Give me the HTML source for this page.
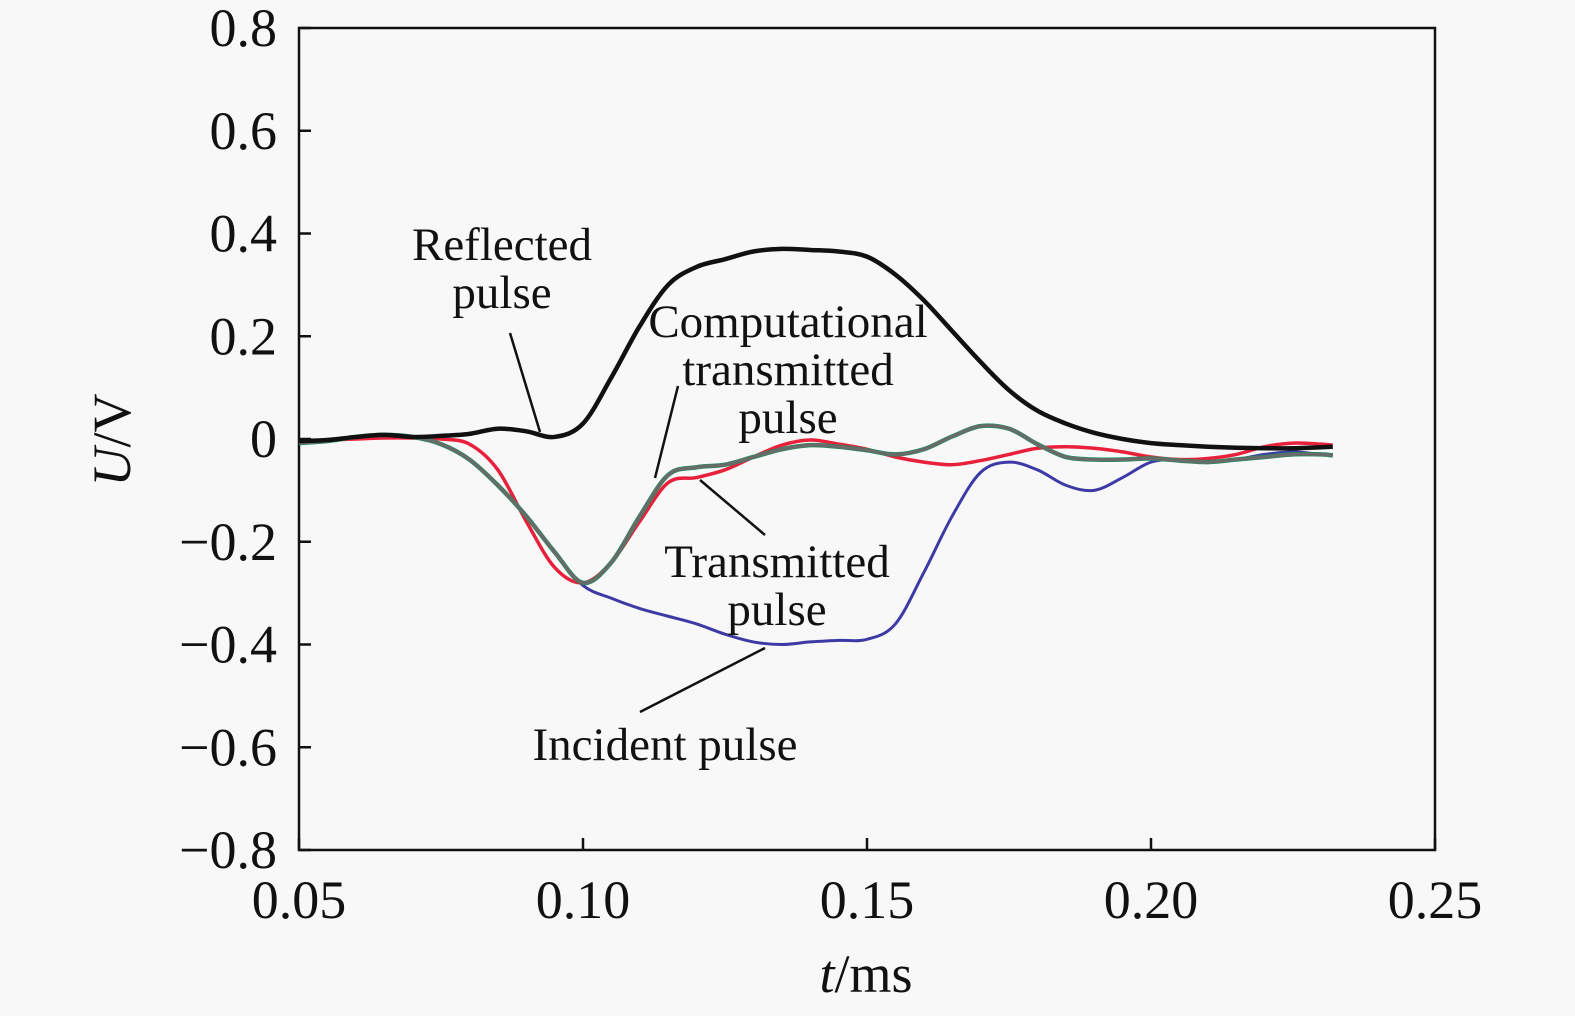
<!DOCTYPE html>
<html><head><meta charset="utf-8"><style>
html,body{margin:0;padding:0;background:#f8f8f8;}
svg{display:block;font-family:"Liberation Serif",serif;}
</style></head><body>
<svg id="chart" width="1575" height="1016" xmlns="http://www.w3.org/2000/svg">
<rect x="0" y="0" width="1575" height="1016" fill="#f8f8f8"/>
<g id="axes"></g>
<g id="series"></g>
<g id="annotations" font-size="47" fill="#111" text-anchor="middle">
<text x="502" y="260">Reflected</text>
<text x="502" y="308">pulse</text>
<line x1="510" y1="333" x2="540" y2="432" stroke="#111" stroke-width="2.5"/>
<text x="788" y="337">Computational</text>
<text x="788" y="385">transmitted</text>
<text x="788" y="433">pulse</text>
<line x1="678" y1="386" x2="655" y2="478" stroke="#111" stroke-width="2.5"/>
<text x="777" y="577">Transmitted</text>
<text x="777" y="625">pulse</text>
<line x1="765" y1="535" x2="700" y2="480" stroke="#111" stroke-width="2.5"/>
<text x="665" y="760">Incident pulse</text>
<line x1="640" y1="712" x2="765" y2="648" stroke="#111" stroke-width="2.5"/>
</g>
</svg>
<script>
const tValues=[0.05,0.055,0.06,0.065,0.07,0.075,0.08,0.085,0.09,0.095,0.10,0.105,0.11,0.115,0.12,0.125,0.13,0.135,0.14,0.145,0.15,0.155,0.16,0.165,0.17,0.175,0.18,0.185,0.19,0.195,0.20,0.205,0.21,0.215,0.22,0.225,0.23,0.232];
const reflected=[-0.004,-0.002,0.004,0.008,0.004,0.006,0.01,0.02,0.015,0.004,0.03,0.12,0.22,0.3,0.335,0.35,0.365,0.37,0.368,0.365,0.355,0.32,0.27,0.21,0.15,0.095,0.055,0.03,0.012,0.0,-0.008,-0.012,-0.015,-0.017,-0.018,-0.018,-0.016,-0.015];
const incident=[-0.008,-0.004,0.004,0.008,0.004,-0.01,-0.04,-0.09,-0.15,-0.22,-0.285,-0.31,-0.33,-0.345,-0.36,-0.38,-0.395,-0.4,-0.395,-0.392,-0.39,-0.36,-0.26,-0.15,-0.065,-0.045,-0.06,-0.09,-0.1,-0.075,-0.045,-0.04,-0.045,-0.04,-0.03,-0.025,-0.03,-0.03];
const computational=[-0.008,-0.004,0.004,0.008,0.004,-0.01,-0.04,-0.09,-0.15,-0.22,-0.28,-0.24,-0.15,-0.07,-0.055,-0.05,-0.035,-0.02,-0.012,-0.015,-0.022,-0.03,-0.02,0.005,0.025,0.02,-0.01,-0.035,-0.04,-0.04,-0.038,-0.042,-0.045,-0.04,-0.035,-0.03,-0.03,-0.032];
const transmitted=[-0.004,-0.002,0,0.002,0.002,0,-0.01,-0.06,-0.16,-0.25,-0.28,-0.24,-0.16,-0.085,-0.075,-0.06,-0.035,-0.012,-0.002,-0.01,-0.02,-0.035,-0.045,-0.05,-0.042,-0.03,-0.018,-0.015,-0.018,-0.025,-0.035,-0.04,-0.038,-0.03,-0.015,-0.008,-0.01,-0.012];
const xTicks=[0.05,0.10,0.15,0.20,0.25];
const xTickLabels=["0.05","0.10","0.15","0.20","0.25"];
const yTicks=[0.8,0.6,0.4,0.2,0,-0.2,-0.4,-0.6,-0.8];
const yTickLabels=["0.8","0.6","0.4","0.2","0","\u22120.2","\u22120.4","\u22120.6","\u22120.8"];

const L=299,R=1435,T=28,B=850;
const X=t=>L+(t-0.05)/0.2*(R-L);
const Y=v=>T+(0.8-v)/1.6*(B-T);
const NS="http://www.w3.org/2000/svg";
const axes=document.getElementById('axes');
function mk(tag,attrs,parent){const e=document.createElementNS(NS,tag);for(const k in attrs)e.setAttribute(k,attrs[k]);parent.appendChild(e);return e;}
const frame=mk('rect',{x:L,y:T,width:R-L,height:B-T,fill:'none',stroke:'#111','stroke-width':2.5},axes);


yTicks.forEach((v,i)=>{
 const tk=mk('line',{x1:L,x2:L+12,y1:Y(v),y2:Y(v),stroke:'#111','stroke-width':2.5},axes);
 
 
 const tx=mk('text',{x:277,y:Y(v)+18,'font-size':54,'text-anchor':'end',fill:'#111'},axes);
 tx.textContent=yTickLabels[i];
 
 
});
xTicks.forEach((t,i)=>{
 const tk=mk('line',{x1:X(t),x2:X(t),y1:B,y2:B-12,stroke:'#111','stroke-width':2.5},axes);
 
 
 const tx=mk('text',{x:X(t),y:918,'font-size':54,'text-anchor':'middle',fill:'#111'},axes);
 tx.textContent=xTickLabels[i];
 
 
});
const xt=mk('text',{x:866,y:992,'font-size':54,'text-anchor':'middle',fill:'#111'},axes);
xt.innerHTML='<tspan font-style="italic">t</tspan>/ms';


const yt=mk('text',{x:0,y:0,'font-size':54,'text-anchor':'middle',fill:'#111',transform:'translate(130,440) rotate(-90)'},axes);
yt.innerHTML='<tspan font-style="italic">U</tspan>/V';



function path(vals){
 const p=tValues.map((t,i)=>[X(t),Y(vals[i])]);
 let d='M'+p[0][0]+','+p[0][1];
 for(let i=0;i<p.length-1;i++){
  const p0=p[Math.max(0,i-1)],p1=p[i],p2=p[i+1],p3=p[Math.min(p.length-1,i+2)];
  const c1=[p1[0]+(p2[0]-p0[0])/6,p1[1]+(p2[1]-p0[1])/6];
  const c2=[p2[0]-(p3[0]-p1[0])/6,p2[1]-(p3[1]-p1[1])/6];
  d+=' C'+c1+' '+c2+' '+p2;
 }
 return d;
}
const sg=document.getElementById('series');
const defs=[[incident,'#3d3aa6',3,'incident-pulse-line'],[transmitted,'#e8203c',3.5,'transmitted-pulse-line'],[computational,'#2a8a5c',4.5,'computational-green-line'],[computational,'#6a6a6a',3,'computational-transmitted-pulse-line'],[reflected,'#111',4.5,'reflected-pulse-line']];
defs.forEach(([vals,col,w,name])=>{
 const e=mk('path',{d:path(vals),fill:'none',stroke:col,'stroke-width':w,'stroke-linejoin':'round'},sg);
 
 
});
</script>
</body></html>
